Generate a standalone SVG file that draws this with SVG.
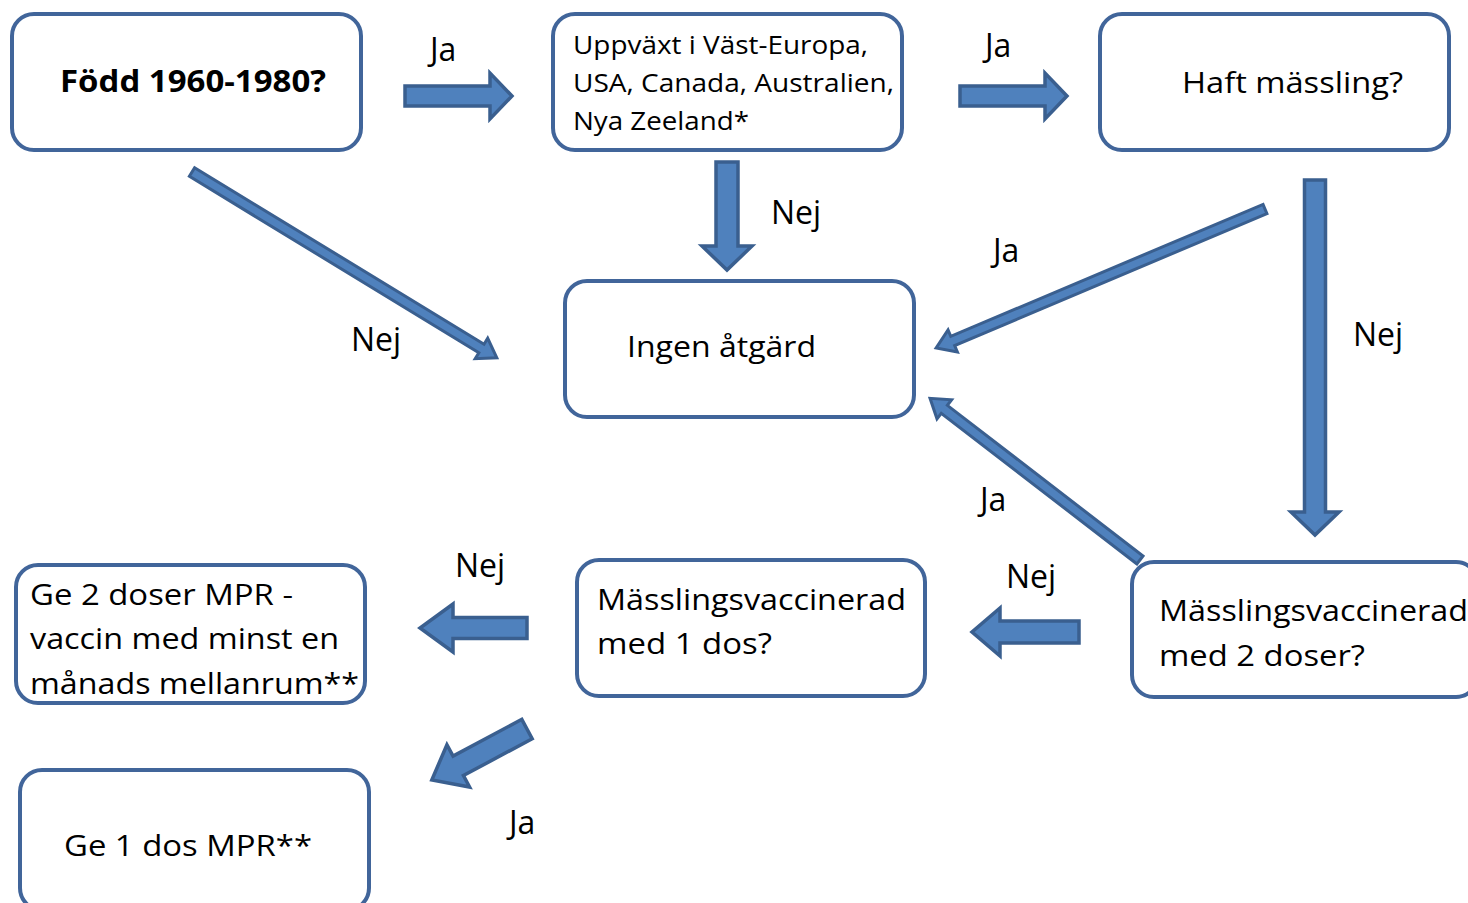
<svg xmlns="http://www.w3.org/2000/svg" width="1468" height="903" viewBox="0 0 1468 903">
<style>
.box{fill:#ffffff;stroke:#41659a;stroke-width:4}
.t{font-family:"Open Sans","Noto Sans","Liberation Sans",sans-serif;fill:#000000}
.arr{fill:#4f81bd;stroke:#3a5f8f;stroke-width:3.5;stroke-linejoin:miter}
.thin{fill:#4f81bd;stroke:#3a5f8f;stroke-width:3;stroke-linejoin:miter}
.lbl{font-family:"Open Sans","Noto Sans","Liberation Sans",sans-serif;font-size:32px;fill:#000000}
</style>
<rect width="1468" height="903" fill="#ffffff"/>

<g id="connectors">
  <polygon class="arr" transform="translate(405,96)" points="0,-10 85,-10 85,-23 107,0 85,23 85,10 0,10"/>
  <polygon class="arr" transform="translate(960,96)" points="0,-10 85,-10 85,-23 107,0 85,23 85,10 0,10"/>
  <polygon class="arr" transform="translate(727,162) rotate(90)" points="0,-11 84,-11 84,-25 108,0 84,25 84,11 0,11"/>
  <polygon class="thin" transform="translate(192,172) rotate(31.37)" points="0,-5 339,-5 339,-12 357,0 339,12 339,5 0,5"/>
  <polygon class="thin" transform="translate(1265,209) rotate(157.1)" points="0,-5 339,-5 339,-12 357,0 339,12 339,5 0,5"/>
  <polygon class="arr" transform="translate(1315,180) rotate(90)" points="0,-10.5 332,-10.5 332,-24 355,0 332,24 332,10.5 0,10.5"/>
  <polygon class="thin" transform="translate(1140,560) rotate(217.6)" points="0,-5 247,-5 247,-12 265,0 247,12 247,5 0,5"/>
  <polygon class="arr" transform="translate(1079,632) rotate(180)" points="0,-11 79,-11 79,-24 107,0 79,24 79,11 0,11"/>
  <polygon class="arr" transform="translate(527,628) rotate(180)" points="0,-10.5 74,-10.5 74,-24 107,0 74,24 74,10.5 0,10.5"/>
  <polygon class="arr" transform="translate(527,729) rotate(151.8)" points="0,-11 78,-11 78,-24 108,0 78,24 78,11 0,11"/>
</g>

<g id="labels">
  <text class="lbl" x="430" y="61">Ja</text>
  <text class="lbl" x="985" y="57">Ja</text>
  <text class="lbl" x="771" y="224">Nej</text>
  <text class="lbl" x="351" y="351">Nej</text>
  <text class="lbl" x="993" y="262">Ja</text>
  <text class="lbl" x="1353" y="346">Nej</text>
  <text class="lbl" x="980" y="511">Ja</text>
  <text class="lbl" x="1006" y="588">Nej</text>
  <text class="lbl" x="455" y="577">Nej</text>
  <text class="lbl" x="509" y="834">Ja</text>
</g>

<g id="n-fodd">
  <rect class="box" x="12" y="14" width="349" height="136" rx="22"/>
  <text class="t" x="60" y="92" font-size="31" font-weight="bold" textLength="266" lengthAdjust="spacingAndGlyphs">Född 1960-1980?</text>
</g>

<g id="n-uppvaxt">
  <rect class="box" x="553" y="14" width="349" height="136" rx="22"/>
  <text class="t" font-size="25">
    <tspan x="573" y="54" textLength="295" lengthAdjust="spacingAndGlyphs">Uppväxt i Väst-Europa,</tspan>
    <tspan x="573" y="92" textLength="321" lengthAdjust="spacingAndGlyphs">USA, Canada, Australien,</tspan>
    <tspan x="573" y="130" textLength="176" lengthAdjust="spacingAndGlyphs">Nya Zeeland*</tspan>
  </text>
</g>

<g id="n-haft">
  <rect class="box" x="1100" y="14" width="349" height="136" rx="22"/>
  <text class="t" x="1182" y="93" font-size="30" textLength="221" lengthAdjust="spacingAndGlyphs">Haft mässling?</text>
</g>

<g id="n-ingen">
  <rect class="box" x="565" y="281" width="349" height="136" rx="22"/>
  <text class="t" x="627" y="357" font-size="30" textLength="189" lengthAdjust="spacingAndGlyphs">Ingen åtgärd</text>
</g>

<g id="n-1dos">
  <rect class="box" x="577" y="560" width="348" height="136" rx="22"/>
  <text class="t" font-size="30">
    <tspan x="597" y="610" textLength="309" lengthAdjust="spacingAndGlyphs">Mässlingsvaccinerad</tspan>
    <tspan x="597" y="654" textLength="175" lengthAdjust="spacingAndGlyphs">med 1 dos?</tspan>
  </text>
</g>

<g id="n-2doser">
  <rect class="box" x="1132" y="562" width="346" height="135" rx="22"/>
  <text class="t" font-size="30">
    <tspan x="1159" y="621" textLength="309" lengthAdjust="spacingAndGlyphs">Mässlingsvaccinerad</tspan>
    <tspan x="1159" y="666" textLength="206" lengthAdjust="spacingAndGlyphs">med 2 doser?</tspan>
  </text>
</g>

<g id="n-ge2">
  <rect class="box" x="16" y="565" width="349" height="138" rx="22"/>
  <text class="t" font-size="30">
    <tspan x="30" y="605" textLength="263" lengthAdjust="spacingAndGlyphs">Ge 2 doser MPR -</tspan>
    <tspan x="30" y="649" textLength="309" lengthAdjust="spacingAndGlyphs">vaccin med minst en</tspan>
    <tspan x="30" y="694" textLength="329" lengthAdjust="spacingAndGlyphs">månads mellanrum**</tspan>
  </text>
</g>

<g id="n-ge1">
  <rect class="box" x="20" y="770" width="349" height="140" rx="22"/>
  <text class="t" x="64" y="856" font-size="30" textLength="248" lengthAdjust="spacingAndGlyphs">Ge 1 dos MPR**</text>
</g>
</svg>
